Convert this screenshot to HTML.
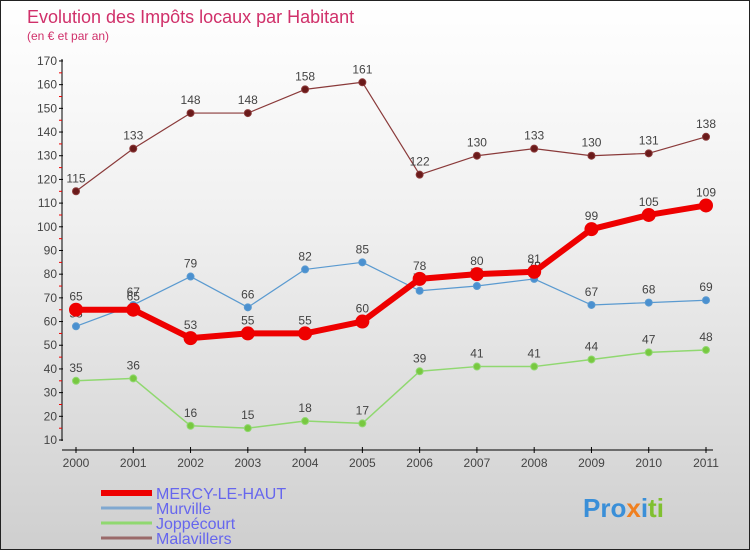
<!DOCTYPE html>
<html><head><meta charset="utf-8"><style>
body{margin:0}
#c{width:748px;height:548px;border:1px solid #222;background:linear-gradient(#ffffff,#f0f0f0 40%,#cfcfcf);position:relative;font-family:"Liberation Sans",sans-serif;overflow:hidden}
</style></head><body>
<div id="c">
<svg id="s" width="748" height="548" style="position:absolute;left:0;top:0" font-family="Liberation Sans, sans-serif">
<text x="26" y="22" font-size="18" fill="#d0306a">Evolution des Impôts locaux par Habitant</text>
<text x="26" y="39" font-size="12" fill="#d0306a">(en € et par an)</text>
<g id="axes"></g><g id="series"></g><g id="legend"></g>
<text x="582" y="516" font-size="26" font-weight="bold" fill="#3a8fd8">Pro<tspan fill="#f08020">x</tspan><tspan fill="#3a8fd8">i</tspan><tspan fill="#80c030">ti</tspan></text>
</svg>
</div>
<script>
const years=[2000,2001,2002,2003,2004,2005,2006,2007,2008,2009,2010,2011];
const mercy=[65,65,53,55,55,60,78,80,81,99,105,109];
const murville=[58,67,79,66,82,85,73,75,78,67,68,69];
const joppe=[35,36,16,15,18,17,39,41,41,44,47,48];
const mala=[115,133,148,148,158,161,122,130,133,130,131,138];
const yTicks=[10,20,30,40,50,60,70,80,90,100,110,120,130,140,150,160,170];
const NS="http://www.w3.org/2000/svg";
const X=i=>75+i*(630/11), Y=v=>439-(v-10)*2.369;
function mk(tag,attrs,parent,txt){const e=document.createElementNS(NS,tag);for(const k in attrs)e.setAttribute(k,attrs[k]);if(txt!==undefined)e.textContent=txt;parent.appendChild(e);return e;}
const ax=document.getElementById('axes');
let yl=mk('line',{x1:61,y1:58,x2:61,y2:440,stroke:'#000'},ax);


let xl=mk('line',{x1:61,y1:449,x2:712,y2:449,stroke:'#000'},ax);


yTicks.forEach(v=>{const y=Y(v);
 mk('line',{x1:58,y1:y,x2:62,y2:y,stroke:'#000'},ax);
 if(v<170)mk('line',{x1:58,y1:y-11.8,x2:61,y2:y-11.8,stroke:'#e00'},ax);
 const t=mk('text',{x:56,y:y+4,'font-size':12,fill:'#444','text-anchor':'end'},ax,v);
 
 });
years.forEach((yr,i)=>{mk('line',{x1:X(i),y1:446,x2:X(i),y2:452,stroke:'#000'},ax);
 const t=mk('text',{x:X(i),y:466,'font-size':12,fill:'#444','text-anchor':'middle'},ax,yr);
 
 });
const sg=document.getElementById('series');
function draw(vals,color,w,r,fill,name){
 const g=mk('g',{},sg);
 
 
 mk('polyline',{points:vals.map((v,i)=>X(i)+','+Y(v)).join(' '),fill:'none',stroke:color,'stroke-width':w,'stroke-linejoin':'round'},g);
 vals.forEach((v,i)=>{const c=mk('circle',{cx:X(i),cy:Y(v),r:r,fill:fill,stroke:color,'stroke-width':1},g);
  
  
  mk('text',{x:X(i),y:Y(v)-9,'font-size':12,fill:'#444','text-anchor':'middle'},g,v);});
}
draw(mala,'#8a3a3a',1.2,3.5,'#6a1a1a','malavillers');
draw(joppe,'#90d870',1.5,3.5,'#78c840','joppecourt');
draw(murville,'#5a9ad0',1.2,3.5,'#4a90d0','murville');
draw(mercy,'#ee0000',6,6.5,'#ee0000','mercy-le-haut');
const lg=document.getElementById('legend');
[['MERCY-LE-HAUT','#ee0000',6],['Murville','#80a8d0',3],['Joppécourt','#90d870',3],['Malavillers','#9a6a6a',3]].forEach((d,i)=>{
 const y=492+i*15;const g=mk('g',{},lg);
 
 
 mk('line',{x1:100,y1:y,x2:151,y2:y,stroke:d[1],'stroke-width':d[2]},g);
 mk('text',{x:155,y:y+6,'font-size':16,fill:'#6666ee'},g,d[0]);});
</script>
</body></html>
